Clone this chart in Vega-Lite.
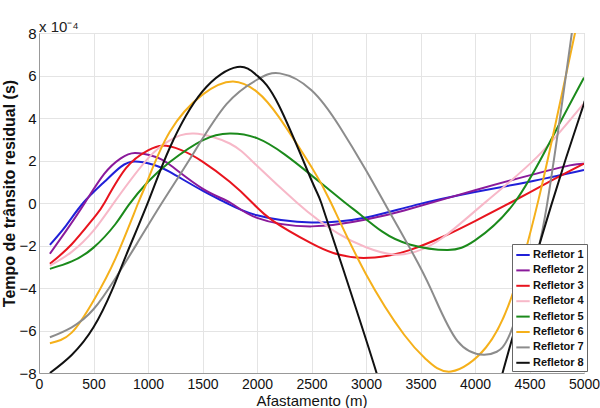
{
  "$schema": "https://vega.github.io/schema/vega-lite/v6.json",
  "width": 545,
  "height": 340,
  "autosize": {"type": "none"},
  "padding": {"left": 39, "top": 33, "right": 16, "bottom": 35},
  "background": "white",
  "title": {"text": "x 10⁻⁴", "anchor": "start", "frame": "group", "fontSize": 15, "fontWeight": "normal", "font": "Liberation Sans", "offset": -9, "color": "#222"},
  "config": {"view": {"stroke": "#c8c8c8"}, "font": "Liberation Sans"},
  "datasets": {
    "d": [
      {"s": "Refletor 1", "x": 100, "y": -1.97}, {"s": "Refletor 1", "x": 250, "y": -1.05}, {"s": "Refletor 1", "x": 405, "y": 0}, {"s": "Refletor 1", "x": 600, "y": 1.0}, {"s": "Refletor 1", "x": 750, "y": 1.7}, {"s": "Refletor 1", "x": 880, "y": 1.95}, {"s": "Refletor 1", "x": 1050, "y": 1.8}, {"s": "Refletor 1", "x": 1200, "y": 1.46}, {"s": "Refletor 1", "x": 1500, "y": 0.58}, {"s": "Refletor 1", "x": 1720, "y": 0}, {"s": "Refletor 1", "x": 2000, "y": -0.58}, {"s": "Refletor 1", "x": 2500, "y": -0.92}, {"s": "Refletor 1", "x": 3000, "y": -0.68}, {"s": "Refletor 1", "x": 3450, "y": -0.1}, {"s": "Refletor 1", "x": 4000, "y": 0.52}, {"s": "Refletor 1", "x": 4500, "y": 1.0}, {"s": "Refletor 1", "x": 5000, "y": 1.55},

      {"s": "Refletor 2", "x": 100, "y": -2.39}, {"s": "Refletor 2", "x": 250, "y": -1.3}, {"s": "Refletor 2", "x": 420, "y": 0}, {"s": "Refletor 2", "x": 600, "y": 1.38}, {"s": "Refletor 2", "x": 750, "y": 2.1}, {"s": "Refletor 2", "x": 880, "y": 2.35}, {"s": "Refletor 2", "x": 1050, "y": 2.2}, {"s": "Refletor 2", "x": 1200, "y": 1.8}, {"s": "Refletor 2", "x": 1500, "y": 0.68}, {"s": "Refletor 2", "x": 1760, "y": 0}, {"s": "Refletor 2", "x": 2000, "y": -0.7}, {"s": "Refletor 2", "x": 2500, "y": -1.1}, {"s": "Refletor 2", "x": 3000, "y": -0.78}, {"s": "Refletor 2", "x": 3350, "y": -0.35}, {"s": "Refletor 2", "x": 4000, "y": 0.6}, {"s": "Refletor 2", "x": 4500, "y": 1.3}, {"s": "Refletor 2", "x": 4870, "y": 1.77}, {"s": "Refletor 2", "x": 5000, "y": 1.85},

      {"s": "Refletor 3", "x": 100, "y": -2.86}, {"s": "Refletor 3", "x": 300, "y": -1.94}, {"s": "Refletor 3", "x": 500, "y": -0.72}, {"s": "Refletor 3", "x": 600, "y": 0}, {"s": "Refletor 3", "x": 800, "y": 1.65}, {"s": "Refletor 3", "x": 1000, "y": 2.48}, {"s": "Refletor 3", "x": 1130, "y": 2.7}, {"s": "Refletor 3", "x": 1300, "y": 2.5}, {"s": "Refletor 3", "x": 1500, "y": 1.95}, {"s": "Refletor 3", "x": 1750, "y": 1.0}, {"s": "Refletor 3", "x": 1950, "y": 0.05}, {"s": "Refletor 3", "x": 2150, "y": -0.85}, {"s": "Refletor 3", "x": 2500, "y": -1.9}, {"s": "Refletor 3", "x": 2700, "y": -2.35}, {"s": "Refletor 3", "x": 2940, "y": -2.58}, {"s": "Refletor 3", "x": 3200, "y": -2.48}, {"s": "Refletor 3", "x": 3400, "y": -2.22}, {"s": "Refletor 3", "x": 3700, "y": -1.6}, {"s": "Refletor 3", "x": 4000, "y": -0.85}, {"s": "Refletor 3", "x": 4320, "y": 0}, {"s": "Refletor 3", "x": 4700, "y": 1.05}, {"s": "Refletor 3", "x": 5000, "y": 1.85},

      {"s": "Refletor 4", "x": 100, "y": -2.95}, {"s": "Refletor 4", "x": 300, "y": -2.3}, {"s": "Refletor 4", "x": 500, "y": -1.3}, {"s": "Refletor 4", "x": 700, "y": 0.1}, {"s": "Refletor 4", "x": 1000, "y": 2.1}, {"s": "Refletor 4", "x": 1200, "y": 2.95}, {"s": "Refletor 4", "x": 1420, "y": 3.27}, {"s": "Refletor 4", "x": 1750, "y": 2.8}, {"s": "Refletor 4", "x": 2000, "y": 1.75}, {"s": "Refletor 4", "x": 2370, "y": 0}, {"s": "Refletor 4", "x": 2550, "y": -0.75}, {"s": "Refletor 4", "x": 2750, "y": -1.45}, {"s": "Refletor 4", "x": 3000, "y": -2.08}, {"s": "Refletor 4", "x": 3250, "y": -2.42}, {"s": "Refletor 4", "x": 3450, "y": -2.3}, {"s": "Refletor 4", "x": 3700, "y": -1.65}, {"s": "Refletor 4", "x": 4110, "y": 0.1}, {"s": "Refletor 4", "x": 4570, "y": 2.17}, {"s": "Refletor 4", "x": 5000, "y": 4.7},

      {"s": "Refletor 5", "x": 100, "y": -3.1}, {"s": "Refletor 5", "x": 300, "y": -2.75}, {"s": "Refletor 5", "x": 500, "y": -2.1}, {"s": "Refletor 5", "x": 700, "y": -1.0}, {"s": "Refletor 5", "x": 822, "y": -0.1}, {"s": "Refletor 5", "x": 1000, "y": 1.0}, {"s": "Refletor 5", "x": 1200, "y": 1.93}, {"s": "Refletor 5", "x": 1500, "y": 2.95}, {"s": "Refletor 5", "x": 1750, "y": 3.27}, {"s": "Refletor 5", "x": 2000, "y": 3.05}, {"s": "Refletor 5", "x": 2250, "y": 2.3}, {"s": "Refletor 5", "x": 2500, "y": 1.3}, {"s": "Refletor 5", "x": 2800, "y": 0.05}, {"s": "Refletor 5", "x": 2950, "y": -0.55}, {"s": "Refletor 5", "x": 3150, "y": -1.35}, {"s": "Refletor 5", "x": 3400, "y": -1.95}, {"s": "Refletor 5", "x": 3750, "y": -2.21}, {"s": "Refletor 5", "x": 4000, "y": -1.76}, {"s": "Refletor 5", "x": 4360, "y": 0}, {"s": "Refletor 5", "x": 4720, "y": 3.19}, {"s": "Refletor 5", "x": 5000, "y": 5.9},

      {"s": "Refletor 6", "x": 100, "y": -6.6}, {"s": "Refletor 6", "x": 300, "y": -6.1}, {"s": "Refletor 6", "x": 500, "y": -4.6}, {"s": "Refletor 6", "x": 700, "y": -2.63}, {"s": "Refletor 6", "x": 910, "y": 0}, {"s": "Refletor 6", "x": 1000, "y": 1.1}, {"s": "Refletor 6", "x": 1200, "y": 3.35}, {"s": "Refletor 6", "x": 1500, "y": 5.1}, {"s": "Refletor 6", "x": 1780, "y": 5.72}, {"s": "Refletor 6", "x": 2000, "y": 5.23}, {"s": "Refletor 6", "x": 2200, "y": 4.05}, {"s": "Refletor 6", "x": 2500, "y": 1.69}, {"s": "Refletor 6", "x": 2680, "y": 0}, {"s": "Refletor 6", "x": 3000, "y": -3.35}, {"s": "Refletor 6", "x": 3350, "y": -6.2}, {"s": "Refletor 6", "x": 3550, "y": -7.35}, {"s": "Refletor 6", "x": 3780, "y": -7.93}, {"s": "Refletor 6", "x": 4100, "y": -6.8}, {"s": "Refletor 6", "x": 4350, "y": -4.2}, {"s": "Refletor 6", "x": 4580, "y": 0.1}, {"s": "Refletor 6", "x": 4750, "y": 4.0}, {"s": "Refletor 6", "x": 4920, "y": 8.06}, {"s": "Refletor 6", "x": 5000, "y": 10},

      {"s": "Refletor 7", "x": 100, "y": -6.32}, {"s": "Refletor 7", "x": 300, "y": -5.85}, {"s": "Refletor 7", "x": 500, "y": -5.0}, {"s": "Refletor 7", "x": 700, "y": -3.55}, {"s": "Refletor 7", "x": 900, "y": -1.9}, {"s": "Refletor 7", "x": 1127, "y": 0}, {"s": "Refletor 7", "x": 1400, "y": 2.2}, {"s": "Refletor 7", "x": 1720, "y": 4.65}, {"s": "Refletor 7", "x": 2000, "y": 5.8}, {"s": "Refletor 7", "x": 2210, "y": 6.1}, {"s": "Refletor 7", "x": 2500, "y": 5.31}, {"s": "Refletor 7", "x": 2760, "y": 3.58}, {"s": "Refletor 7", "x": 3000, "y": 1.54}, {"s": "Refletor 7", "x": 3190, "y": -0.19}, {"s": "Refletor 7", "x": 3400, "y": -2.1}, {"s": "Refletor 7", "x": 3600, "y": -4.1}, {"s": "Refletor 7", "x": 3840, "y": -6.5}, {"s": "Refletor 7", "x": 4080, "y": -7.14}, {"s": "Refletor 7", "x": 4200, "y": -7.0}, {"s": "Refletor 7", "x": 4320, "y": -6.17}, {"s": "Refletor 7", "x": 4500, "y": -3.5}, {"s": "Refletor 7", "x": 4660, "y": -0.1}, {"s": "Refletor 7", "x": 4890, "y": 8.06}, {"s": "Refletor 7", "x": 5000, "y": 12},

      {"s": "Refletor 8", "x": 100, "y": -8.0}, {"s": "Refletor 8", "x": 300, "y": -7.15}, {"s": "Refletor 8", "x": 500, "y": -5.85}, {"s": "Refletor 8", "x": 670, "y": -4.1}, {"s": "Refletor 8", "x": 800, "y": -2.45}, {"s": "Refletor 8", "x": 1005, "y": 0.1}, {"s": "Refletor 8", "x": 1200, "y": 2.6}, {"s": "Refletor 8", "x": 1500, "y": 5.25}, {"s": "Refletor 8", "x": 1820, "y": 6.4}, {"s": "Refletor 8", "x": 2000, "y": 6.0}, {"s": "Refletor 8", "x": 2200, "y": 4.6}, {"s": "Refletor 8", "x": 2500, "y": 1.07}, {"s": "Refletor 8", "x": 2590, "y": 0}, {"s": "Refletor 8", "x": 2800, "y": -3.26}, {"s": "Refletor 8", "x": 3100, "y": -8.05}, {"s": "Refletor 8", "x": 3300, "y": -11}, {"s": "Refletor 8", "x": 3700, "y": -14}, {"s": "Refletor 8", "x": 4000, "y": -12.5}, {"s": "Refletor 8", "x": 4250, "y": -8.05}, {"s": "Refletor 8", "x": 4700, "y": -0.1}, {"s": "Refletor 8", "x": 4980, "y": 4.37}, {"s": "Refletor 8", "x": 5000, "y": 4.7}
    ]
  },
  "data": {"name": "d"},
  "mark": {"type": "line", "clip": true, "interpolate": "natural", "strokeWidth": 2},
  "encoding": {
    "x": {
      "field": "x", "type": "quantitative",
      "scale": {"domain": [0, 5000], "nice": false, "zero": false},
      "axis": {"values": [0, 500, 1000, 1500, 2000, 2500, 3000, 3500, 4000, 4500, 5000], "format": "d", "title": "Afastamento (m)", "labelFontSize": 14, "labelColor": "#111", "titleFontSize": 15, "titleFontWeight": "normal", "titleColor": "#111", "grid": true, "gridColor": "#e4e4e4", "ticks": false, "labelPadding": 4, "domainColor": "#999", "titlePadding": 2, "labelFlush": false, "labelOverlap": false}
    },
    "y": {
      "field": "y", "type": "quantitative",
      "scale": {"domain": [-8, 8], "nice": false, "zero": false},
      "axis": {"values": [-8, -6, -4, -2, 0, 2, 4, 6, 8], "title": "Tempo de trânsito residual (s)", "labelFontSize": 15, "labelColor": "#111", "titleFontSize": 16, "titleFontWeight": "bold", "titleColor": "#111", "titleY": 160, "grid": true, "gridColor": "#e4e4e4", "ticks": false, "labelPadding": 3, "domainColor": "#999", "titlePadding": 1, "labelFlush": false, "labelOverlap": false}
    },
    "color": {
      "field": "s", "type": "nominal",
      "scale": {"domain": ["Refletor 1", "Refletor 2", "Refletor 3", "Refletor 4", "Refletor 5", "Refletor 6", "Refletor 7", "Refletor 8"], "range": ["#2020d8", "#8a1a9b", "#e8141e", "#f7b8c8", "#1b8a1b", "#f5b01a", "#8c8c8c", "#111111"]},
      "legend": {"orient": "none", "legendX": 473, "legendY": 211, "title": null, "fillColor": "white", "strokeColor": "#666", "padding": 3, "symbolType": "stroke", "symbolSize": 180, "symbolStrokeWidth": 2, "labelFontSize": 11, "labelFontWeight": "bold", "labelColor": "#111", "rowPadding": 2.4, "labelOffset": 2}
    }
  }
}
